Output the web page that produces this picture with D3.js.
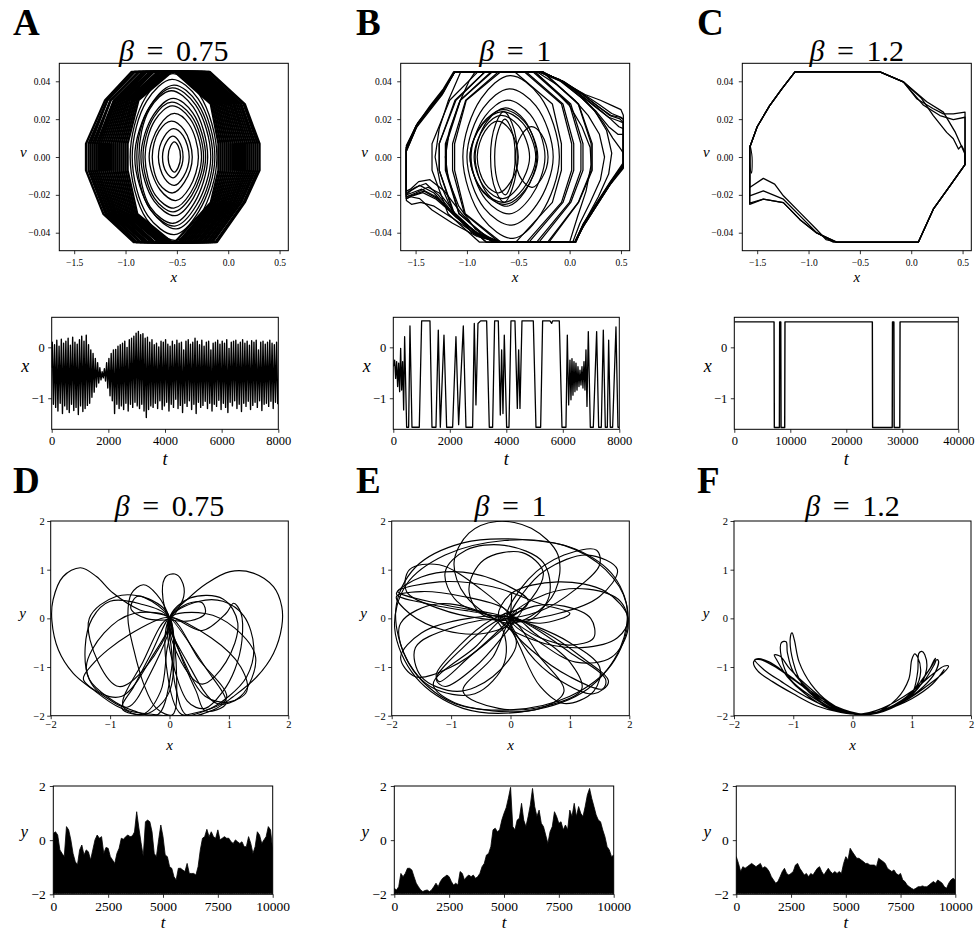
<!DOCTYPE html>
<html><head><meta charset="utf-8">
<script src="https://cdn.jsdelivr.net/npm/d3@7"></script>
<style>
body{margin:0;background:#fff}
svg{display:block}
text{font-family:"Liberation Serif","DejaVu Serif",serif;fill:#000}
</style>
</head><body><script>
// ---------------- data ----------------
// Phase portraits (x, v) for beta = 0.75 : saturated cycles and inner orbits
const cyclesA = [
[[0.305,0.007],[0.161,0.028],[-0.18,0.045],[-0.94,0.045],[-1.199,0.03],[-1.385,0.007],[-1.385,-0.007],[-1.216,-0.03],[-0.92,-0.045],[-0.11,-0.045],[0.161,-0.024],[0.305,-0.007]],
[[0.285,0.007],[0.15,0.028],[-0.19,0.045],[-0.915,0.045],[-1.177,0.03],[-1.36,0.007],[-1.36,-0.007],[-1.194,-0.03],[-0.896,-0.045],[-0.125,-0.045],[0.15,-0.024],[0.285,-0.007]],
[[0.265,0.007],[0.127,0.028],[-0.217,0.045],[-0.909,0.045],[-1.177,0.03],[-1.34,0.007],[-1.34,-0.007],[-1.18,-0.03],[-0.891,-0.045],[-0.153,-0.045],[0.127,-0.024],[0.265,-0.007]],
[[0.245,0.007],[0.116,0.028],[-0.23,0.045],[-0.874,0.045],[-1.146,0.03],[-1.32,0.007],[-1.32,-0.007],[-1.162,-0.03],[-0.857,-0.045],[-0.17,-0.045],[0.116,-0.024],[0.245,-0.007]],
[[0.225,0.007],[0.098,0.028],[-0.248,0.045],[-0.869,0.045],[-1.145,0.03],[-1.3,0.007],[-1.3,-0.007],[-1.146,-0.03],[-0.853,-0.045],[-0.19,-0.045],[0.098,-0.024],[0.225,-0.007]],
[[0.205,0.007],[0.08,0.028],[-0.262,0.045],[-0.834,0.045],[-1.114,0.03],[-1.28,0.007],[-1.28,-0.007],[-1.129,-0.03],[-0.818,-0.045],[-0.208,-0.045],[0.08,-0.024],[0.205,-0.007]],
[[0.185,0.007],[0.062,0.028],[-0.285,0.045],[-0.829,0.045],[-1.105,0.03],[-1.26,0.007],[-1.26,-0.007],[-1.116,-0.03],[-0.814,-0.045],[-0.232,-0.045],[0.062,-0.024],[0.185,-0.007]],
[[0.165,0.007],[0.048,0.028],[-0.3,0.045],[-0.804,0.045],[-1.092,0.03],[-1.24,0.007],[-1.24,-0.007],[-1.1,-0.03],[-0.79,-0.045],[-0.25,-0.045],[0.048,-0.024],[0.165,-0.007]],
[[0.145,0.007],[0.03,0.028],[-0.317,0.045],[-0.798,0.045],[-1.075,0.03],[-1.22,0.007],[-1.22,-0.007],[-1.085,-0.03],[-0.786,-0.045],[-0.273,-0.045],[0.03,-0.024],[0.145,-0.007]],
[[0.125,0.007],[0.014,0.028],[-0.331,0.045],[-0.763,0.045],[-1.059,0.03],[-1.2,0.007],[-1.2,-0.007],[-1.068,-0.03],[-0.751,-0.045],[-0.289,-0.045],[0.014,-0.024],[0.125,-0.007]],
[[0.105,0.007],[-0.004,0.028],[-0.35,0.045],[-0.758,0.045],[-1.042,0.03],[-1.18,0.007],[-1.18,-0.007],[-1.052,-0.03],[-0.747,-0.045],[-0.306,-0.045],[-0.004,-0.024],[0.105,-0.007]],
[[0.085,0.007],[-0.022,0.028],[-0.368,0.045],[-0.732,0.045],[-1.025,0.03],[-1.16,0.007],[-1.16,-0.007],[-1.036,-0.03],[-0.722,-0.045],[-0.329,-0.045],[-0.022,-0.024],[0.085,-0.007]],
[[0.065,0.007],[-0.038,0.028],[-0.385,0.045],[-0.727,0.045],[-1.008,0.03],[-1.14,0.007],[-1.14,-0.007],[-1.02,-0.03],[-0.718,-0.045],[-0.349,-0.045],[-0.038,-0.024],[0.065,-0.007]],
[[0.045,0.007],[-0.055,0.028],[-0.4,0.045],[-0.687,0.045],[-0.99,0.03],[-1.12,0.007],[-1.12,-0.007],[-1.003,-0.03],[-0.679,-0.045],[-0.371,-0.045],[-0.055,-0.024],[0.045,-0.007]],
[[0.025,0.007],[-0.072,0.028],[-0.415,0.045],[-0.672,0.045],[-0.975,0.03],[-1.1,0.007],[-1.1,-0.007],[-0.986,-0.03],[-0.664,-0.045],[-0.39,-0.045],[-0.072,-0.024],[0.025,-0.007]],
[[0.005,0.007],[-0.09,0.028],[-0.43,0.045],[-0.656,0.045],[-0.958,0.03],[-1.08,0.007],[-1.08,-0.007],[-0.97,-0.03],[-0.65,-0.045],[-0.41,-0.045],[-0.09,-0.024],[0.005,-0.007]],
[[-0.015,0.007],[-0.106,0.028],[-0.449,0.045],[-0.631,0.045],[-0.94,0.03],[-1.06,0.007],[-1.06,-0.007],[-0.953,-0.03],[-0.626,-0.045],[-0.431,-0.045],[-0.106,-0.024],[-0.015,-0.007]],
[[-0.035,0.007],[-0.122,0.028],[-0.468,0.045],[-0.611,0.045],[-0.925,0.03],[-1.04,0.007],[-1.04,-0.007],[-0.936,-0.03],[-0.607,-0.045],[-0.453,-0.045],[-0.122,-0.024],[-0.035,-0.007]],
[[-0.055,0.007],[-0.138,0.028],[-0.485,0.045],[-0.596,0.045],[-0.908,0.03],[-1.02,0.007],[-1.02,-0.007],[-0.92,-0.03],[-0.593,-0.045],[-0.469,-0.045],[-0.138,-0.024],[-0.055,-0.007]],
[[-0.075,0.007],[-0.154,0.028],[-0.5,0.045],[-0.576,0.045],[-0.891,0.03],[-1.0,0.007],[-1.0,-0.007],[-0.903,-0.03],[-0.573,-0.045],[-0.487,-0.045],[-0.154,-0.024],[-0.075,-0.007]],
[[-0.095,0.007],[-0.17,0.028],[-0.52,0.045],[-0.55,0.045],[-0.874,0.03],[-0.98,0.007],[-0.98,-0.007],[-0.886,-0.03],[-0.55,-0.045],[-0.52,-0.045],[-0.17,-0.024],[-0.095,-0.007]]
];
const orbitsA = [
[[-0.11,0],[-0.28,0.033],[-0.539,0.044],[-0.803,0.0317],[-0.955,0],[-0.794,-0.033],[-0.512,-0.044],[-0.27,-0.0308]],
[[-0.13,0],[-0.294,0.0308],[-0.548,0.041],[-0.794,0.0295],[-0.935,0],[-0.786,-0.0308],[-0.524,-0.041],[-0.286,-0.0287]],
[[-0.15,0],[-0.3,0.0285],[-0.528,0.038],[-0.756,0.0274],[-0.91,0],[-0.748,-0.0285],[-0.505,-0.038],[-0.29,-0.0266]],
[[-0.17,0],[-0.318,0.0275],[-0.545,0.0365],[-0.77,0.026],[-0.89,0],[-0.762,-0.0275],[-0.52,-0.0365],[-0.31,-0.0255]],
[[-0.20,0],[-0.34,0.0263],[-0.557,0.035],[-0.767,0.0252],[-0.87,0],[-0.76,-0.0263],[-0.536,-0.035],[-0.333,-0.0245]],
[[-0.22,0],[-0.345,0.0233],[-0.536,0.031],[-0.728,0.0223],[-0.85,0],[-0.722,-0.0233],[-0.517,-0.031],[-0.34,-0.0217]],
[[-0.24,0],[-0.36,0.0218],[-0.55,0.029],[-0.725,0.021],[-0.83,0],[-0.718,-0.0218],[-0.535,-0.029],[-0.355,-0.0203]],
[[-0.26,0],[-0.372,0.0203],[-0.546,0.027],[-0.714,0.0194],[-0.81,0],[-0.708,-0.0203],[-0.529,-0.027],[-0.366,-0.0189]],
[[-0.29,0],[-0.382,0.0173],[-0.525,0.023],[-0.669,0.0166],[-0.77,0],[-0.664,-0.0173],[-0.51,-0.023],[-0.376,-0.0161]],
[[-0.35,0],[-0.43,0.0143],[-0.554,0.019],[-0.674,0.0137],[-0.74,0],[-0.67,-0.0143],[-0.542,-0.019],[-0.426,-0.0133]],
[[-0.38,0],[-0.44,0.0113],[-0.533,0.015],[-0.623,0.0108],[-0.68,0],[-0.62,-0.0113],[-0.524,-0.015],[-0.437,-0.0105]],
[[-0.44,0],[-0.48,0.0083],[-0.542,0.011],[-0.602,0.0079],[-0.64,0],[-0.6,-0.0083],[-0.536,-0.011],[-0.478,-0.0077]],
[[-0.465,0],[-0.489,0.006],[-0.526,0.008],[-0.562,0.0058],[-0.585,0],[-0.561,-0.006],[-0.523,-0.008],[-0.488,-0.0056]]
];

// beta = 1 : relaxation cycles between the two walls, saturated cycles, inner orbits
const cyclesB = [
[[-1.59,0.005],[-1.49,0.0166],[-1.36,0.0255],[-1.23,0.034],[-1.117,0.045],[-0.272,0.045],[-0.06,0.0397],[0.134,0.0326],[0.264,0.0273],[0.394,0.0218],[0.49,0.0201],[0.523,0.018],[0.523,-0.005],[0.394,-0.0143],[0.264,-0.025],[0.134,-0.036],[0.053,-0.045],[-0.69,-0.045],[-0.886,-0.0409],[-1.113,-0.0311],[-1.30,-0.0223],[-1.43,-0.0188],[-1.53,-0.0205],[-1.59,-0.022]],
[[-1.59,0.004],[-1.48,0.018],[-1.35,0.027],[-1.22,0.036],[-1.12,0.045],[-0.29,0.045],[-0.08,0.040],[0.12,0.031],[0.26,0.024],[0.38,0.016],[0.47,0.012],[0.523,0.012],[0.523,-0.004],[0.40,-0.013],[0.27,-0.024],[0.14,-0.035],[0.06,-0.045],[-0.70,-0.045],[-0.90,-0.040],[-1.10,-0.032],[-1.28,-0.020],[-1.40,-0.014],[-1.50,-0.016],[-1.59,-0.019]],
[[-1.59,0.006],[-1.50,0.016],[-1.37,0.025],[-1.24,0.034],[-1.12,0.045],[-0.26,0.045],[-0.05,0.039],[0.15,0.033],[0.30,0.030],[0.42,0.027],[0.50,0.025],[0.523,0.022],[0.523,-0.006],[0.39,-0.015],[0.26,-0.026],[0.13,-0.037],[0.05,-0.045],[-0.68,-0.045],[-0.88,-0.042],[-1.12,-0.033],[-1.32,-0.026],[-1.45,-0.024],[-1.54,-0.025],[-1.59,-0.023]],
[[-1.59,0.003],[-1.49,0.016],[-1.36,0.026],[-1.23,0.035],[-1.12,0.045],[-0.30,0.045],[-0.10,0.041],[0.08,0.034],[0.22,0.026],[0.33,0.018],[0.42,0.010],[0.50,0.004],[0.523,0.002],[0.523,-0.005],[0.40,-0.014],[0.26,-0.025],[0.13,-0.036],[0.05,-0.045],[-0.66,-0.045],[-0.86,-0.041],[-1.05,-0.030],[-1.22,-0.018],[-1.36,-0.012],[-1.47,-0.013],[-1.55,-0.017],[-1.59,-0.018]],
[[-1.59,0.005],[-1.49,0.017],[-1.36,0.026],[-1.23,0.035],[-1.12,0.045],[-0.28,0.045],[-0.07,0.040],[0.13,0.032],[0.27,0.026],[0.40,0.020],[0.48,0.016],[0.523,0.015],[0.523,-0.005],[0.40,-0.014],[0.27,-0.025],[0.14,-0.036],[0.055,-0.045],[-0.69,-0.045],[-0.89,-0.041],[-1.11,-0.030],[-1.27,-0.019],[-1.38,-0.016],[-1.50,-0.019],[-1.59,-0.021]],
[[-1.59,0.004],[-1.50,0.015],[-1.37,0.024],[-1.24,0.033],[-1.125,0.045],[-0.27,0.045],[-0.05,0.0395],[0.14,0.033],[0.28,0.028],[0.41,0.023],[0.50,0.021],[0.523,0.020],[0.523,-0.003],[0.39,-0.0135],[0.26,-0.0245],[0.13,-0.0355],[0.05,-0.045],[-0.70,-0.045],[-0.90,-0.042],[-1.14,-0.035],[-1.34,-0.028],[-1.46,-0.022],[-1.55,-0.021],[-1.59,-0.022]],
[[-1.59,0.004],[-1.49,0.016],[-1.36,0.026],[-1.23,0.035],[-1.12,0.045],[-0.32,0.045],[-0.12,0.038],[0.05,0.030],[0.18,0.022],[0.29,0.012],[0.34,0.0],[0.30,-0.012],[0.20,-0.024],[0.10,-0.035],[0.03,-0.045],[-0.70,-0.045],[-0.90,-0.040],[-1.12,-0.031],[-1.30,-0.021],[-1.44,-0.017],[-1.54,-0.019],[-1.59,-0.02]],
[[-1.59,0.005],[-1.49,0.017],[-1.36,0.027],[-1.23,0.036],[-1.13,0.045],[-0.34,0.045],[-0.16,0.036],[0.0,0.027],[0.12,0.016],[0.2,0.005],[0.21,-0.004],[0.16,-0.018],[0.08,-0.031],[0.0,-0.045],[-0.70,-0.045],[-0.92,-0.041],[-1.14,-0.030],[-1.32,-0.019],[-1.46,-0.015],[-1.55,-0.018],[-1.59,-0.02]],
[[-1.59,0.003],[-1.48,0.017],[-1.35,0.027],[-1.22,0.036],[-1.12,0.045],[-0.30,0.045],[-0.09,0.040],[0.10,0.032],[0.25,0.024],[0.36,0.014],[0.41,0.002],[0.38,-0.009],[0.28,-0.021],[0.15,-0.034],[0.06,-0.045],[-0.69,-0.045],[-0.89,-0.041],[-1.10,-0.032],[-1.29,-0.022],[-1.42,-0.018],[-1.52,-0.02],[-1.59,-0.021]],
[[0.523,0.02],[0.523,-0.005],[0.40,-0.014],[0.27,-0.025],[0.14,-0.036],[0.05,-0.045],[-0.70,-0.045],[-0.92,-0.038],[-1.08,-0.026],[-1.18,-0.012],[-1.21,0.0],[-1.17,0.014],[-1.08,0.028],[-0.98,0.040],[-0.92,0.045],[-0.28,0.045],[-0.06,0.040],[0.13,0.033],[0.27,0.027],[0.40,0.022],[0.49,0.021]],
[[0.523,0.018],[0.523,-0.004],[0.39,-0.014],[0.26,-0.025],[0.13,-0.036],[0.05,-0.045],[-0.72,-0.045],[-0.95,-0.040],[-1.14,-0.029],[-1.26,-0.014],[-1.31,0.0],[-1.27,0.015],[-1.18,0.030],[-1.06,0.045],[-0.28,0.045],[-0.07,0.040],[0.12,0.032],[0.26,0.026],[0.38,0.021],[0.48,0.019]],
[[0.22,0.007],[0.087,0.028],[-0.259,0.045],[-0.894,0.045],[-1.168,0.03],[-1.34,0.007],[-1.34,-0.007],[-1.184,-0.03],[-0.877,-0.045],[-0.201,-0.045],[0.087,-0.024],[0.22,-0.007]],
[[0.21,0.007],[0.084,0.028],[-0.266,0.045],[-0.824,0.045],[-1.107,0.03],[-1.27,0.007],[-1.27,-0.007],[-1.122,-0.03],[-0.809,-0.045],[-0.214,-0.045],[0.084,-0.024],[0.21,-0.007]],
[[0.13,0.007],[0.011,0.028],[-0.342,0.045],[-0.823,0.045],[-1.116,0.03],[-1.27,0.007],[-1.27,-0.007],[-1.13,-0.03],[-0.811,-0.045],[-0.298,-0.045],[0.011,-0.024],[0.13,-0.007]],
[[0.11,0.007],[-0.002,0.028],[-0.358,0.045],[-0.763,0.045],[-1.065,0.03],[-1.21,0.007],[-1.21,-0.007],[-1.078,-0.03],[-0.752,-0.045],[-0.321,-0.045],[-0.002,-0.024],[0.11,-0.007]],
[[0.04,0.007],[-0.065,0.028],[-0.425,0.045],[-0.752,0.045],[-1.064,0.03],[-1.2,0.007],[-1.2,-0.007],[-1.076,-0.03],[-0.743,-0.045],[-0.395,-0.045],[-0.065,-0.024],[0.04,-0.007]],
[[0.02,0.007],[-0.079,0.028],[-0.442,0.045],[-0.692,0.045],[-1.012,0.03],[-1.14,0.007],[-1.14,-0.007],[-1.024,-0.03],[-0.685,-0.045],[-0.419,-0.045],[-0.079,-0.024],[0.02,-0.007]],
[[-0.08,0.007],[-0.168,0.028],[-0.536,0.045],[-0.671,0.045],[-1.006,0.03],[-1.12,0.007],[-1.12,-0.007],[-1.016,-0.03],[-0.667,-0.045],[-0.524,-0.045],[-0.168,-0.024],[-0.08,-0.007]]
];
const orbitsB = [
[[-0.16,0],[-0.328,0.027],[-0.588,0.036],[-0.84,0.0259],[-1.0,0],[-0.832,-0.027],[-0.563,-0.036],[-0.32,-0.0252]],
[[-0.24,0],[-0.384,0.0225],[-0.607,0.03],[-0.823,0.0216],[-0.96,0],[-0.816,-0.0225],[-0.586,-0.03],[-0.377,-0.021]],
[[-0.31,0],[-0.442,0.0188],[-0.647,0.025],[-0.845,0.018],[-0.97,0],[-0.838,-0.0188],[-0.627,-0.025],[-0.435,-0.0175]],
[[-0.33,0],[-0.458,0.018],[-0.656,0.024],[-0.848,0.0173],[-0.97,0],[-0.842,-0.018],[-0.637,-0.024],[-0.452,-0.0168]],
[[-0.32,0],[-0.44,0.0195],[-0.626,0.026],[-0.806,0.0187],[-0.92,0],[-0.80,-0.0195],[-0.608,-0.026],[-0.434,-0.0182]],
[[-0.39,0],[-0.498,0.0165],[-0.665,0.022],[-0.827,0.0158],[-0.93,0],[-0.822,-0.0165],[-0.649,-0.022],[-0.493,-0.0154]],
[[-0.51,0],[-0.562,0.018],[-0.643,0.024],[-0.721,0.0173],[-0.77,0],[-0.718,-0.018],[-0.635,-0.024],[-0.559,-0.0168]],
[[-0.53,0],[-0.57,0.015],[-0.632,0.02],[-0.692,0.0144],[-0.73,0],[-0.69,-0.015],[-0.626,-0.02],[-0.568,-0.014]],
[[-0.21,0],[-0.274,0.012],[-0.373,0.016],[-0.469,0.0115],[-0.53,0],[-0.466,-0.012],[-0.364,-0.016],[-0.271,-0.0112]],
[[-0.5,0],[-0.58,0.0143],[-0.704,0.019],[-0.824,0.0137],[-0.9,0],[-0.82,-0.0143],[-0.692,-0.019],[-0.576,-0.0133]],
[[-0.10,0],[-0.288,0.032],[-0.579,0.043],[-0.861,0.031],[-1.04,0],[-0.852,-0.032],[-0.551,-0.043],[-0.279,-0.030]]
];

// beta = 1.2 : wall-to-wall cycles
const cyclesC = [
[[-1.573,-0.025],[-1.573,0.005],[-1.50,0.016],[-1.38,0.027],[-1.26,0.036],[-1.132,0.045],[-0.305,0.045],[-0.077,0.0397],[0.151,0.0292],[0.313,0.0237],[0.43,0.013],[0.52,0.002],[0.523,-0.004],[0.377,-0.0152],[0.215,-0.0276],[0.069,-0.045],[-0.726,-0.045],[-0.921,-0.0401],[-1.083,-0.0331],[-1.245,-0.0241],[-1.44,-0.0223]],
[[-1.573,-0.0161],[-1.573,0.005],[-1.50,0.016],[-1.38,0.027],[-1.26,0.036],[-1.132,0.045],[-0.305,0.045],[-0.077,0.0397],[0.053,0.0308],[0.215,0.0255],[0.313,0.0228],[0.41,0.0228],[0.524,0.0237],[0.524,-0.004],[0.377,-0.0152],[0.215,-0.0276],[0.069,-0.045],[-0.726,-0.045],[-0.83,-0.0436],[-0.921,-0.0383],[-1.083,-0.0294],[-1.245,-0.0205],[-1.33,-0.0143],[-1.44,-0.0113]],
[[-1.573,-0.0205],[-1.573,0.005],[-1.50,0.016],[-1.38,0.027],[-1.26,0.036],[-1.132,0.045],[-0.305,0.045],[-0.077,0.0397],[0.12,0.0273],[0.28,0.0219],[0.41,0.0198],[0.524,0.021],[0.524,-0.004],[0.377,-0.0152],[0.215,-0.0276],[0.069,-0.045],[-0.759,-0.045],[-0.921,-0.04],[-1.083,-0.0311],[-1.245,-0.0223],[-1.44,-0.0179]],
[[-1.573,-0.0244],[-1.573,0.005],[-1.50,0.016],[-1.38,0.027],[-1.26,0.036],[-1.132,0.045],[-0.305,0.045],[-0.077,0.0397],[0.10,0.031],[0.215,0.0219],[0.345,0.013],[0.41,0.0096],[0.46,0.0042],[0.49,0.006],[0.524,0.0025],[0.524,-0.004],[0.377,-0.0152],[0.215,-0.0276],[0.069,-0.045],[-0.726,-0.045],[-0.921,-0.0401],[-1.083,-0.0331],[-1.245,-0.0241],[-1.44,-0.0223]]
];
const orbitsC = [
[[-1.57,0.006],[-1.55,0.0],[-1.555,-0.0085],[-1.57,-0.005]]
];

// time series x(t), beta = 0.75: successive maxima and minima, one cycle every 80 time units
const xStartA = -0.4;
const cycleStepA = 80;
const xMaxA = [0.10,0.05,0.14,0.02,0.16,0.08,0.12,0.18,0.04,0.20,0.10,0.06,0.15,0.22,0.12,0.24,0.05,
 -0.05,-0.12,-0.22,-0.30,-0.40,-0.48,-0.42,
 -0.30,-0.22,-0.12,-0.05,-0.04,0.02,0.05,
 0.08,0.12,0.00,0.15,0.18,0.22,0.28,
 0.31,0.25,0.27,0.18,0.20,0.10,0.15,
 0.05,0.08,0.01,0.12,0.10,0.15,0.06,0.02,0.12,0.05,0.14,0.08,0.10,-0.05,0.12,0.15,0.06,0.10,0.18,0.12,
 0.05,0.14,0.02,0.10,0.12,-0.05,0.08,0.10,0.14,0.06,0.12,0.08,0.15,-0.02,0.10,0.12,0.14,0.06,0.10,0.15,
 0.08,0.12,0.04,0.13,0.10,0.14,-0.05,0.10,0.12,0.06,0.10,0.14,0.08,0.05,0.10];
const xMinA = [-1.12,-1.18,-1.25,-1.10,-1.30,-1.15,-1.22,-1.28,-1.12,-1.24,-1.18,-1.32,-1.15,-1.26,-1.20,-1.14,-1.10,
 -0.98,-0.88,-0.78,-0.70,-0.64,-0.60,-0.66,
 -0.80,-0.95,-1.05,-1.30,-1.12,-1.20,-1.15,
 -1.22,-1.10,-1.25,-1.12,-1.18,-1.08,-1.15,
 -1.20,-1.12,-1.25,-1.38,-1.22,-1.15,-1.18,
 -1.10,-1.20,-1.05,-1.22,-1.15,-1.08,-1.25,-1.12,-1.18,-1.02,-1.20,-1.14,-1.28,-1.10,-1.16,-1.05,-1.22,-1.12,-1.30,-1.08,
 -1.18,-1.14,-1.06,-1.20,-1.10,-1.25,-1.12,-1.16,-1.04,-1.22,-1.10,-1.18,-1.28,-1.08,-1.15,-1.05,-1.20,-1.12,-1.26,-1.10,
 -1.16,-1.06,-1.22,-1.14,-1.08,-1.18,-1.05,-1.24,-1.12,-1.10,-1.16,-1.06,-1.20,-1.08,-1.12];

// time series x(t), beta = 1: [t, x]
const seriesB = [[0,-0.38],[47,-0.25],[83,-0.61],[118,-0.28],[153,-0.77],[189,-0.31],[224,-0.87],[260,-0.02],[295,-0.84],[330,-0.28],[366,-1.23],[401,0.21],
[472,-1.57],[543,-1.57],[590,0.42],[661,-1.57],[920,-1.57],[1003,0.52],[1298,0.52],[1369,-1.57],[1510,-1.57],[1593,0.34],[1664,-1.57],[1794,0.24],[1888,-1.57],[2100,-1.57],
[2218,0.21],[2313,-1.52],[2478,0.42],[2572,-1.57],[2808,-1.57],[2867,0.47],[2926,-1.13],[2997,0.47],[3092,0.52],[3304,0.52],[3398,-1.57],[3516,-1.57],[3587,0.52],[3717,0.52],
[3788,-1.33],[3835,-0.05],[3882,-1.30],[3929,0.24],[4012,-1.57],[4095,-1.57],[4165,0.52],[4307,0.52],[4390,-1.2],[4437,-0.05],[4484,-1.2],[4555,0.52],[4956,0.52],
[5050,-1.57],[5216,-1.57],[5286,0.52],[5546,0.52],[5605,0.47],[5640,0.52],[5876,0.52],[5971,-1.57],[6112,-1.57],[6160,0.24],[6207,-1.13],[6254,-0.25],[6289,-1.03],
[6325,-0.22],[6360,-0.94],[6396,-0.28],[6431,-0.87],[6466,-0.31],[6502,-0.84],[6537,-0.38],[6573,-0.77],[6608,-0.45],[6643,-0.74],[6679,-0.38],[6714,-0.8],[6750,-0.28],
[6785,-0.84],[6820,-0.05],[6856,-1.16],[6903,0.31],[6974,-1.57],[7080,-1.57],[7198,0.31],[7269,-1.57],[7363,-1.57],[7434,0.34],[7505,-1.57],[7576,-1.57],[7623,0.14],
[7682,-1.57],[7764,-1.57],[7882,0.40],[7953,-1.57],[8000,-1.57]];

// time series x(t), beta = 1.2: [t, x]
const seriesC = [[0,0.5],[7100,0.5],[7150,-1.575],[8050,-1.575],[8100,0.5],[8300,0.5],[8350,-1.575],[9000,-1.575],[9050,0.5],
[24650,0.5],[24700,-1.575],[28200,-1.575],[28250,0.5],[28500,0.5],[28550,-1.575],[29550,-1.575],[29600,0.5],[40000,0.5]];

// Trajectories in the (x, y) plane
const loopsD = [
[[0,0],[-0.5,0.17],[-0.95,0.52],[-1.23,0.86],[-1.5,1.04],[-1.79,0.86],[-1.96,0.38],[-1.98,-0.05],[-1.87,-0.65],[-1.62,-1.13],[-1.28,-1.47],[-0.89,-1.8],[-0.45,-1.97],[-0.15,-1.5],[-0.05,-0.7]],
[[0,0],[0.29,0.38],[0.63,0.72],[1.02,0.96],[1.41,0.93],[1.75,0.65],[1.89,0.24],[1.89,-0.17],[1.75,-0.72],[1.47,-1.2],[1.07,-1.61],[0.74,-1.88],[0.29,-1.99],[0.1,-1.4],[0.03,-0.6]],
[[0,0],[-0.12,0.55],[-0.06,0.86],[0.09,0.91],[0.2,0.79],[0.24,0.45]],
[[0,0],[-0.22,0.5],[-0.44,0.69],[-0.64,0.51],[-0.7,0.0],[-0.6,-0.65],[-0.44,-1.33],[-0.22,-1.85],[0.05,-1.98],[0.12,-1.2]],
[[0,0],[-0.5,0.3],[-1.0,0.35],[-1.3,0.0],[-1.42,-0.6],[-1.35,-1.25],[-1.0,-1.65],[-0.6,-1.9],[-0.2,-1.98],[0.0,-1.3]],
[[0,0],[0.5,0.35],[0.9,0.35],[1.25,0.05],[1.42,-0.6],[1.3,-1.2],[1.0,-1.6],[0.6,-1.9],[0.2,-1.97],[-0.05,-1.0]],
[[0,0],[0.55,-0.25],[0.95,0.1],[1.08,0.31],[1.2,0.12],[1.22,-0.45],[1.1,-1.05],[0.9,-1.5],[0.6,-1.85],[0.3,-1.7]],
[[0,0],[-0.45,-0.9],[-0.78,-1.81],[-0.3,-1.97],[0.3,-1.98],[0.96,-1.64],[0.5,-0.85]],
[[0,0],[-0.7,-0.35],[-1.3,-0.95],[-1.45,-1.25],[-1.1,-1.6],[-0.7,-1.82],[-0.35,-1.2]],
[[0,0],[0.7,-0.4],[1.2,-1.0],[1.3,-1.5],[1.0,-1.72],[0.6,-1.6],[0.25,-0.9]],
[[0,0],[-0.35,0.4],[-0.9,0.45],[-1.35,0.0],[-1.2,-0.9],[-0.85,-1.4],[-0.4,-1.0]],
[[0,0],[0.35,0.42],[0.9,0.4],[1.15,-0.1],[0.95,-0.9],[0.55,-1.35],[0.2,-0.9]],
[[0,0],[-0.3,-0.7],[-0.6,-1.4],[-0.8,-1.85],[-0.4,-1.97],[0.0,-1.5]],
[[0,0],[0.2,-0.8],[0.45,-1.5],[0.6,-1.9],[0.95,-1.75],[0.6,-1.0]],
[[0,0],[-0.6,0.1],[-1.1,-0.3],[-1.4,-1.0],[-1.2,-1.5],[-0.8,-1.6],[-0.3,-0.8]],
[[0,0],[0.6,0.1],[1.1,-0.2],[1.45,-0.8],[1.2,-1.6],[0.8,-1.75],[0.3,-0.9]],
[[0,0],[-0.3,0.35],[-0.55,0.45],[-0.65,0.2],[-0.4,0.0]],
[[0,0],[0.3,0.3],[0.55,0.32],[0.6,0.1],[0.35,-0.05]]
];
const loopsE = [
[[-1.93,0.2],[-1.6,1.05],[-0.8,1.55],[0.2,1.62],[1.1,1.42],[1.75,0.85],[1.98,0.0],[1.7,-0.95],[1.0,-1.6],[0.0,-1.88],[-1.0,-1.72],[-1.7,-0.95]],
[[-1.95,-0.2],[-1.75,0.7],[-1.1,1.3],[-0.1,1.6],[0.9,1.5],[1.6,1.0],[1.95,0.3],[1.85,-0.6],[1.3,-1.45],[0.3,-1.9],[-0.8,-1.85],[-1.6,-1.2]],
[[-0.05,-0.1],[-0.75,0.45],[-0.95,1.15],[-0.7,1.75],[-0.23,1.99],[0.35,1.85],[0.8,1.3],[0.75,0.55],[0.35,0.05]],
[[-0.1,0.0],[-0.9,0.35],[-1.1,0.95],[-0.75,1.4],[-0.1,1.5],[0.55,1.15],[0.65,0.45],[0.3,-0.05]],
[[-1.92,0.5],[-1.5,0.85],[-0.8,0.95],[-0.1,0.7],[0.3,0.35],[0.0,0.05],[-0.7,0.15],[-1.4,0.3]],
[[-1.92,0.45],[-1.5,0.55],[-0.8,0.45],[-0.1,0.2],[0.05,-0.05],[-0.4,-0.3],[-1.1,-0.25],[-1.7,0.1]],
[[0.0,0.0],[0.4,0.25],[0.9,0.25],[1.35,0.0],[1.4,-0.4],[1.0,-0.55],[0.5,-0.4],[0.15,-0.15]],
[[0.1,0.15],[-0.2,-0.25],[-0.7,-0.8],[-1.2,-1.3],[-1.25,-1.15],[-0.85,-0.55],[-0.35,-0.05]],
[[0.2,0.2],[-0.3,-0.1],[-0.8,-0.6],[-1.25,-1.25],[-1.1,-1.4],[-0.6,-1.0],[-0.15,-0.4]],
[[-0.1,0.1],[0.4,-0.2],[1.0,-0.7],[1.6,-1.25],[1.55,-1.45],[1.0,-1.2],[0.35,-0.65],[0.0,-0.2]],
[[0.0,0.0],[0.6,-0.3],[1.2,-0.8],[1.65,-1.3],[1.4,-1.55],[0.8,-1.25],[0.3,-0.7]],
[[-0.05,0.0],[-0.6,-0.6],[-1.3,-1.35],[-1.0,-1.7],[-0.3,-1.9],[0.5,-1.85],[0.9,-1.5],[0.5,-0.8]],
[[0.05,0.0],[-0.3,-0.8],[-0.8,-1.5],[-0.2,-1.85],[0.6,-1.8],[1.2,-1.45],[1.0,-0.9],[0.4,-0.3]],
[[0.0,0.0],[0.6,0.5],[1.3,0.6],[1.85,0.35],[1.98,-0.2],[1.7,-0.8],[1.1,-0.9],[0.5,-0.5]],
[[-0.05,0.05],[0.3,0.8],[0.9,1.3],[1.45,1.4],[1.5,1.1],[1.1,0.6],[0.5,0.15]],
[[0.0,0.0],[-0.5,0.6],[-1.2,1.1],[-1.7,1.0],[-1.75,0.55],[-1.2,0.2],[-0.5,0.0]],
[[0.0,0.0],[-0.7,0.0],[-1.5,-0.3],[-1.85,-0.8],[-1.6,-1.2],[-1.0,-1.0],[-0.4,-0.5]],
[[-0.2,-0.1],[-1.2,0.3],[-1.85,-0.1],[-1.8,-0.7],[-1.35,-1.4],[-0.6,-1.55],[-0.1,-0.9]],
[[-0.05,0.0],[0.35,0.4],[0.55,0.95],[0.2,1.35],[-0.45,1.2],[-0.7,0.6],[-0.5,0.1]],
[[0.0,0.0],[0.8,0.1],[1.5,0.45],[1.8,1.0],[1.3,1.3],[0.6,1.0],[0.2,0.5]],
[[0.0,0.0],[0.2,-0.7],[0.5,-1.4],[0.9,-1.75],[1.4,-1.5],[1.5,-1.0],[1.0,-0.5],[0.4,-0.15]],
[[-1.9,0.55],[-1.2,0.75],[-0.3,0.65],[0.5,0.3],[1.0,0.1],[0.5,-0.1],[-0.3,0.1],[-1.2,0.3]],
[[1.98,0.0],[1.6,0.55],[0.8,0.75],[0.0,0.5],[-0.2,0.0],[0.4,-0.45],[1.2,-0.6],[1.8,-0.4]],
[[-1.5,-1.2],[-1.6,-0.6],[-1.0,-0.2],[-0.2,-0.05],[0.1,-0.5],[-0.3,-1.2],[-0.9,-1.5]]
];
const strokeE = [[0,0],[0.02,0.5]];
const pathF = [[1.55,-1.05],[1.35,-1.35],[1.0,-1.65],[0.5,-1.9],[0.2,-1.97],[-0.2,-1.93],[-0.6,-1.8],[-1.0,-1.55],[-1.35,-1.3],[-1.6,-1.08],[-1.67,-0.9],[-1.6,-0.83],
[-1.4,-0.9],[-1.1,-1.15],[-0.7,-1.5],[-0.3,-1.8],[0.2,-1.97],[0.6,-1.87],[0.95,-1.6],[1.2,-1.3],[1.38,-0.95],[1.42,-0.85],[1.45,-0.87],[1.4,-1.1],[1.2,-1.4],[0.8,-1.75],
[0.3,-1.96],[-0.2,-1.92],[-0.55,-1.7],[-0.85,-1.35],[-1.0,-0.9],[-1.05,-0.4],[-1.02,-0.3],[-0.98,-0.45],[-0.9,-0.9],[-0.7,-1.35],[-0.4,-1.72],[0.0,-1.95],[0.4,-1.93],
[0.75,-1.65],[0.95,-1.25],[1.0,-0.85],[1.05,-0.73],[1.1,-0.8],[1.15,-1.1],[1.05,-1.45],[0.7,-1.78],[0.25,-1.97],[-0.25,-1.9],[-0.7,-1.6],[-1.05,-1.25],[-1.2,-0.8],
[-1.2,-0.5],[-1.12,-0.48],[-1.1,-0.7],[-1.0,-1.1],[-0.7,-1.5],[-0.3,-1.85],[0.2,-1.98],[0.65,-1.85],[1.0,-1.55],[1.1,-1.1],[1.12,-0.72],[1.17,-0.68],[1.22,-0.75],
[1.25,-1.05],[1.1,-1.45],[0.7,-1.8],[0.2,-1.97],[-0.3,-1.88],[-0.8,-1.6],[-1.2,-1.3],[-1.5,-1.05],[-1.65,-0.85],[-1.55,-0.85],[-1.3,-1.0],[-0.95,-1.3],[-0.5,-1.7],
[0.0,-1.95],[0.5,-1.9],[0.95,-1.65],[1.3,-1.35],[1.55,-1.1],[1.62,-0.98],[1.55,-0.98],[1.35,-1.15],[1.0,-1.5],[0.5,-1.85],[0.1,-1.97],[-0.4,-1.85],[-0.8,-1.55],
[-1.1,-1.2],[-1.28,-0.85],[-1.32,-0.75],[-1.22,-0.78],[-1.05,-1.05],[-0.7,-1.45],[-0.3,-1.82],[0.2,-1.98],[0.7,-1.8],[1.05,-1.45],[1.3,-1.05],[1.38,-0.85],[1.4,-0.82],
[1.35,-0.95],[1.15,-1.3]];

// y(t): upper envelope of the fast oscillation, sampled every 100 time units from t = 0
const envStep = 100;
const yFloor = -1.97;
const yTopD = [0.25,0.31,0.19,-0.36,-0.49,-0.61,0.50,0.38,0.01,-0.49,-0.79,-0.92,-0.36,-0.18,-0.55,-0.36,-0.43,-0.73,-0.36,0.01,
 0.19,0.07,0.13,-0.49,-0.27,-0.30,-0.61,-0.73,-0.86,-0.49,-0.30,0.07,0.03,0.13,0.19,0.13,0.15,0.30,1.05,0.45,
 -0.10,-0.60,0.68,0.74,0.68,0.31,-0.49,-0.61,0.01,0.56,0.13,-0.55,-0.61,-0.98,-1.04,-1.35,-1.47,-1.04,-1.04,-1.10,
 -1.16,-0.86,-1.23,-1.23,-1.23,-1.29,-0.98,-0.36,0.07,0.13,0.40,0.13,0.31,0.13,0.07,0.38,0.01,0.07,0.13,0.07,
 0.07,-0.06,-0.12,0.01,-0.06,-0.12,-0.06,-0.24,-0.24,0.13,-0.12,-0.49,-0.24,0.31,0.19,-0.12,0.01,0.13,0.50,0.38,-0.36];
const yTopE = [-1.78,-1.84,-1.72,-1.23,-1.35,-1.23,-1.04,-1.04,-1.10,-1.35,-1.59,-1.72,-1.84,-1.90,-1.86,-1.84,-1.90,-1.84,-1.72,-1.59,
 -1.72,-1.53,-1.41,-1.35,-1.29,-1.35,-1.53,-1.66,-1.59,-1.66,-1.16,-1.23,-1.47,-1.35,-1.29,-1.35,-1.29,-1.41,-1.35,-1.23,
 -0.98,-0.86,-0.55,-0.49,-0.24,0.38,0.44,0.31,0.38,0.74,0.99,1.20,1.55,1.95,0.50,0.38,0.74,0.81,1.36,0.74,
 0.50,0.87,1.30,1.91,1.24,0.87,1.11,0.62,0.50,0.19,-0.12,0.31,0.50,1.05,0.87,0.62,0.68,0.38,0.56,0.38,
 1.11,0.87,1.36,0.87,1.24,0.99,0.87,1.24,1.67,1.91,1.54,1.24,0.93,0.74,0.68,0.38,0.13,-0.24,-0.36,-0.61,-0.55];
const yTopF = [-0.61,-0.86,-1.16,-0.98,-1.04,-0.98,-0.92,-0.86,-0.92,-0.98,-0.92,-0.86,-1.04,-0.98,-1.04,-1.16,-1.35,-1.47,-1.59,-1.53,
 -1.35,-1.16,-1.04,-1.23,-1.29,-1.23,-1.16,-0.92,-0.86,-1.04,-1.16,-1.29,-1.23,-1.35,-1.23,-1.29,-1.16,-1.04,-0.98,-1.16,
 -1.29,-1.16,-1.04,-1.16,-1.23,-1.16,-1.23,-1.16,-1.23,-0.86,-0.61,-0.73,-0.30,-0.43,-0.55,-0.67,-0.67,-0.73,-0.79,-0.86,
 -0.86,-0.92,-0.92,-0.92,-0.98,-0.67,-0.73,-0.79,-0.86,-1.04,-1.10,-1.16,-1.10,-1.23,-1.29,-1.23,-1.47,-1.53,-1.66,-1.72,
 -1.78,-1.82,-1.78,-1.72,-1.72,-1.69,-1.72,-1.72,-1.66,-1.59,-1.53,-1.59,-1.47,-1.53,-1.59,-1.72,-1.78,-1.59,-1.47,-1.41,-1.47];

// panel titles, tick values
const betas = ["0.75", "1", "1.2"];
const letters = ["A", "B", "C", "D", "E", "F"];
const ticksXv = [-1.5, -1.0, -0.5, 0.0, 0.5];
const ticksV = [-0.04, -0.02, 0.00, 0.02, 0.04];
const ticksT8 = [0, 2000, 4000, 6000, 8000];
const ticksT40 = [0, 10000, 20000, 30000, 40000];
const ticksXts = [-1, 0];
const ticksXY = [-2, -1, 0, 1, 2];
const ticksT10 = [0, 2500, 5000, 7500, 10000];
const ticksYts = [-2, 0, 2];

// ---------------- drawing ----------------
const SERIF = '"Liberation Serif","DejaVu Serif",serif';
const svg = d3.select("body").append("svg").attr("width", 977).attr("height", 932);
let clipN = 0;

function panel(p) {
  const x = d3.scaleLinear().domain(p.xd).range([p.l, p.l + p.w]);
  const y = d3.scaleLinear().domain(p.yd).range([p.t + p.h, p.t]);
  const id = "clip" + (clipN++);
  svg.append("clipPath").attr("id", id).append("rect")
    .attr("x", p.l).attr("y", p.t).attr("width", p.w).attr("height", p.h);
  const plot = svg.append("g").attr("clip-path", `url(#${id})`);
  return { x, y, plot, p };
}

function frame(P) {
  const { x, y, p } = P;
  const ax = svg.append("g").attr("transform", `translate(0,${p.t + p.h})`)
    .call(d3.axisBottom(x).tickValues(p.xt).tickFormat(d3.format(p.xf)).tickSize(3.5).tickPadding(p.xpad));
  const ay = svg.append("g").attr("transform", `translate(${p.l},0)`)
    .call(d3.axisLeft(y).tickValues(p.yt).tickFormat(d3.format(p.yf)).tickSize(3.5).tickPadding(p.ypad));
  [ax, ay].forEach(a => {
    a.select(".domain").remove();
    a.attr("font-family", null).attr("font-size", null);
    a.selectAll("line").attr("stroke", "#000").attr("stroke-width", 0.8);
    a.selectAll("text").attr("fill", "#000").style("font-size", p.fs + "px").style("font-family", SERIF);
  });
  svg.append("rect").attr("x", p.l).attr("y", p.t).attr("width", p.w).attr("height", p.h)
    .attr("fill", "none").attr("stroke", "#000").attr("stroke-width", 1);
  svg.append("text").attr("x", p.l + p.w / 2).attr("y", p.xlY).attr("text-anchor", "middle")
    .style("font-style", "italic").style("font-size", p.lfs + "px").text(p.xl);
  svg.append("text").attr("x", p.l - p.ylOff).attr("y", p.ylY).attr("text-anchor", "middle")
    .style("font-style", "italic").style("font-size", p.lfs + "px").text(p.yl);
}

function title(P, base, val) {
  const t = svg.append("text").attr("x", P.p.l + P.p.w / 2).attr("y", base)
    .attr("text-anchor", "middle").style("font-size", "30px");
  t.append("tspan").style("font-style", "italic").text("β");
  t.append("tspan").attr("dx", "0.42em").text("=");
  t.append("tspan").attr("dx", "0.42em").text(val);
}

function letter(x0, base, s) {
  svg.append("text").attr("x", x0).attr("y", base).style("font-size", "37px")
    .style("font-weight", "bold").text(s);
}

const lineOf = (P, curve) => d3.line().x(d => P.x(d[0])).y(d => P.y(d[1])).curve(curve);

function drawPaths(P, list, curve, sw) {
  P.plot.selectAll(null).data(list).join("path")
    .attr("d", lineOf(P, curve)).attr("fill", "none")
    .attr("stroke", "#000").attr("stroke-width", sw).attr("stroke-linejoin", "round");
}

// ---- layout ----
const phaseTop = { xd: [-1.645, 0.585], yd: [-0.0495, 0.0495], t: 63.3, h: 187.4, w: 229,
  xt: ticksXv, yt: ticksV, xf: ".1f", yf: ".2f", fs: 9.5, xpad: 5, ypad: 5.5,
  xl: "x", yl: "v", xlY: 282, ylY: 157, ylOff: 36, lfs: 15 };
const tsTop = { yd: [-1.61, 0.59], t: 317.3, h: 112,
  yt: ticksXts, xf: "d", yf: "d", fs: 12.5, xpad: 3.5, ypad: 3.5,
  xl: "t", yl: "x", xlY: 465, ylY: 371.5, ylOff: 26.5, lfs: 18 };
const phaseBot = { xd: [-2, 2], yd: [-2, 2], t: 521, h: 194.7, w: 237.6,
  xt: ticksXY, yt: ticksXY, xf: "d", yf: "d", fs: 10.5, xpad: 1.5, ypad: 2.5,
  xl: "x", yl: "y", xlY: 750, ylY: 618, ylOff: 28, lfs: 15 };
const tsBot = { xd: [0, 10000], yd: [-2, 2], t: 786, h: 108.3, w: 219.4,
  xt: ticksT10, yt: ticksYts, xf: "d", yf: "d", fs: 13.5, xpad: 4, ypad: 4,
  xl: "t", yl: "y", xlY: 928, ylY: 837, ylOff: 29, lfs: 17 };

// ---- row 1: phase portraits ----
const pA = panel({ ...phaseTop, l: 59.3 });
const pB = panel({ ...phaseTop, l: 400.7 });
const pC = panel({ ...phaseTop, l: 742.3 });
drawPaths(pA, cyclesA, d3.curveLinearClosed, 2.3);
drawPaths(pA, orbitsA, d3.curveCatmullRomClosed, 1.3);
drawPaths(pB, cyclesB, d3.curveLinearClosed, 1.25);
drawPaths(pB, orbitsB, d3.curveCatmullRomClosed, 1.2);
drawPaths(pC, cyclesC, d3.curveLinearClosed, 1.3);
drawPaths(pC, orbitsC, d3.curveCatmullRomClosed, 1.1);
[pA, pB, pC].forEach(frame);

// ---- row 1: time series ----
const tA = panel({ ...tsTop, xd: [0, 8000], xt: ticksT8, l: 51.7, w: 226.6 });
const tB = panel({ ...tsTop, xd: [0, 8000], xt: ticksT8, l: 393.3, w: 226 });
const tC = panel({ ...tsTop, xd: [0, 40000], xt: ticksT40, l: 734.3, w: 224 });
const seriesA = [[0, xStartA]];
xMaxA.forEach((hi, i) => {
  seriesA.push([i * cycleStepA + cycleStepA / 4, hi]);
  seriesA.push([i * cycleStepA + 3 * cycleStepA / 4, xMinA[i]]);
});
drawPaths(tA, [seriesA], d3.curveLinear, 1.4);
drawPaths(tB, [seriesB], d3.curveLinear, 1.3);
drawPaths(tC, [seriesC], d3.curveLinear, 1.4);
[tA, tB, tC].forEach(frame);

// ---- row 2: trajectories ----
const pD = panel({ ...phaseBot, l: 50.7 });
const pE = panel({ ...phaseBot, l: 391.7 });
const pF = panel({ ...phaseBot, l: 734, w: 237 });
drawPaths(pD, loopsD, d3.curveCatmullRomClosed, 1.15);
drawPaths(pE, loopsE, d3.curveCatmullRomClosed, 1.15);
drawPaths(pE, [strokeE], d3.curveLinear, 1.15);
drawPaths(pF, [pathF], d3.curveCatmullRom, 1.2);
[pD, pE, pF].forEach(frame);

// ---- row 2: time series (filled fast oscillation) ----
const tD = panel({ ...tsBot, l: 53.3 });
const tE = panel({ ...tsBot, l: 394.3 });
const tF = panel({ ...tsBot, l: 736.3, w: 219 });
[[tD, yTopD], [tE, yTopE], [tF, yTopF]].forEach(([P, top]) => {
  const area = d3.area().x((d, i) => P.x(i * envStep)).y0(P.y(yFloor)).y1(d => P.y(d));
  P.plot.append("path").datum(top).attr("d", area).attr("fill", "#000")
    .attr("stroke", "#000").attr("stroke-width", 0.8);
});
[tD, tE, tF].forEach(frame);

// ---- titles and panel letters ----
[pA, pB, pC].forEach((P, i) => title(P, 60.5, betas[i]));
[pD, pE, pF].forEach((P, i) => title(P, 516, betas[i]));
[[13, 35], [356, 35], [697, 35], [13, 493], [356, 493], [697, 493]].forEach((c, i) => letter(c[0], c[1], letters[i]));
</script></body></html>
